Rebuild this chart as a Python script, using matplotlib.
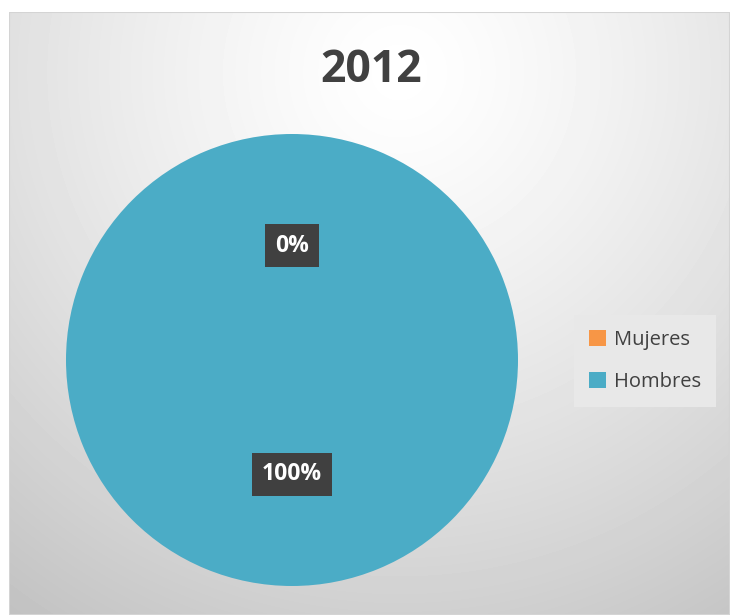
import numpy as np
import matplotlib
matplotlib.use("Agg")
import matplotlib.pyplot as plt
from matplotlib.patches import Rectangle

plt.rcParams['font.family'] = ['Open Sans', 'DejaVu Sans']

# data
title = '2012'
categories = ['Mujeres', 'Hombres']
values = [0, 100]
colors = ['#F79646', '#4BACC6']

W, H = 730, 615
fig = plt.figure(figsize=(W / 100, H / 100), dpi=100)
fig.patch.set_facecolor('white')

# chart area background with soft radial gradient
bg = fig.add_axes([9 / W, 0, (W - 9) / W, (H - 12) / H])
bg.set_axis_off()
yy, xx = np.mgrid[0:H - 12, 0:W - 9]
d = np.hypot(xx - 390, yy - 60) / 620.0
shade = 1.0 - 0.22 * np.clip(d, 0, 1.15) ** 1.3
shade = np.clip(shade, 0.76, 1.0)
bg.imshow(shade, cmap='gray', vmin=0, vmax=1, aspect='auto', extent=[0, 1, 0, 1])
bg.add_patch(Rectangle((0, 0), 1, 1, transform=bg.transAxes, fill=False,
                       edgecolor='#d4d4d4', linewidth=1.5))
bg.set_xlim(0, 1)
bg.set_ylim(0, 1)

fig.text(371 / W, 1 - 70 / H, title, ha='center', va='center',
         fontsize=32, fontweight='bold', color='#404040')

# pie
cx, cy, r = 292, 360, 226
ax = fig.add_axes([(cx - r) / W, (H - cy - r) / H, 2 * r / W, 2 * r / H])
wedges, texts, autotexts = ax.pie(values, colors=colors, startangle=90,
                                  counterclock=False, autopct='%1.0f%%',
                                  pctdistance=0.505, radius=1,
                                  wedgeprops=dict(linewidth=0))
for t in autotexts:
    t.set_color('white')
    t.set_fontweight('bold')
    t.set_fontsize(16.5)
    t.set_bbox(dict(boxstyle='square,pad=0.42', facecolor='#404040',
                    edgecolor='none'))
ax.set_xlim(-1, 1)
ax.set_ylim(-1, 1)
ax.set_aspect('auto')

# legend
leg = fig.legend(wedges, categories, loc='center',
                 bbox_to_anchor=(645 / W, 1 - 361 / H), frameon=True,
                 fontsize=14.5, handlelength=0.85, handleheight=0.85,
                 labelspacing=1.1, handletextpad=0.35, borderpad=0.75,
                 borderaxespad=0, fancybox=False)
leg.get_frame().set_facecolor('#e8e8e8')
leg.get_frame().set_edgecolor('none')
leg.get_frame().set_alpha(1)
for t in leg.get_texts():
    t.set_color('#404040')

fig.savefig('out.png', dpi=100)
